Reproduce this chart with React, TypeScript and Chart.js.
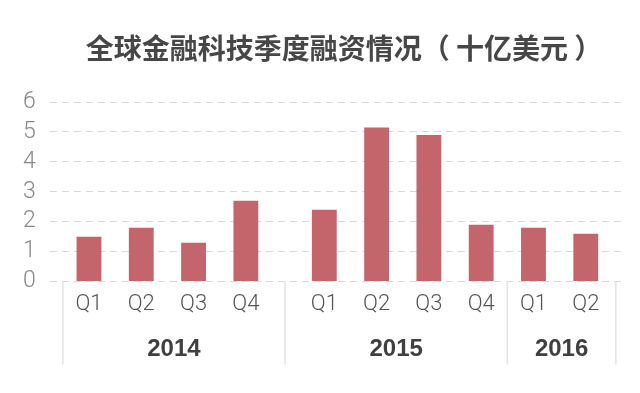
import React, { useEffect, useRef } from "react";
import { Chart, registerables } from "chart.js";

Chart.register(...registerables);

// ---- data ----
const TITLE = "全球金融科技季度融资情况（ 十亿美元 ）";
const YEARS = ["2014", "2015", "2016"];
const QUARTERS_2014 = ["Q1", "Q2", "Q3", "Q4"];
const QUARTERS_2015 = ["Q1", "Q2", "Q3", "Q4"];
const QUARTERS_2016 = ["Q1", "Q2"];
const VALUES_2014 = [1.5, 1.8, 1.3, 2.7];
const VALUES_2015 = [2.4, 5.15, 4.9, 1.9];
const VALUES_2016 = [1.8, 1.6];
const Y_TICKS = [0, 1, 2, 3, 4, 5, 6];

// ---- layout of the category axis (empty spacer categories) ----
const LEAD_SPACERS = 1;
const SPACERS_BETWEEN_BARS = 1;
const SPACERS_BETWEEN_GROUPS = [2, 1];
const TRAIL_SPACERS = 1;

const BAR_COLOR = "#c4656b";

function buildAxis() {
  const groups = [
    { year: YEARS[0], q: QUARTERS_2014, v: VALUES_2014 },
    { year: YEARS[1], q: QUARTERS_2015, v: VALUES_2015 },
    { year: YEARS[2], q: QUARTERS_2016, v: VALUES_2016 },
  ];
  const labels: string[] = [];
  const data: (number | null)[] = [];
  const groupRanges: { year: string; first: number; last: number }[] = [];
  const pushSpacer = (n: number) => {
    for (let i = 0; i < n; i++) {
      labels.push("");
      data.push(null);
    }
  };
  pushSpacer(LEAD_SPACERS);
  groups.forEach((g, gi) => {
    if (gi > 0) pushSpacer(SPACERS_BETWEEN_GROUPS[gi - 1]);
    const first = labels.length;
    g.q.forEach((q, qi) => {
      if (qi > 0) pushSpacer(SPACERS_BETWEEN_BARS);
      labels.push(q);
      data.push(g.v[qi]);
    });
    groupRanges.push({ year: g.year, first, last: labels.length - 1 });
  });
  pushSpacer(TRAIL_SPACERS);
  return { labels, data, groupRanges };
}

export default function App() {
  const ref = useRef<HTMLCanvasElement | null>(null);

  useEffect(() => {
    const { labels, data, groupRanges } = buildAxis();

    const titlePlugin = {
      id: "titleText",
      afterDraw(chart: any) {
        const ctx = chart.ctx;
        ctx.save();
        ctx.fillStyle = "#474747";
        ctx.font = "bold 28px 'Noto Sans CJK SC', sans-serif";
        ctx.textAlign = "center";
        ctx.textBaseline = "middle";
        ctx.fillText(TITLE, 344, 48);
        ctx.restore();
      },
    };

    const yearPlugin = {
      id: "yearGroups",
      afterDraw(chart: any) {
        const ctx = chart.ctx;
        const xs = chart.scales.x;
        const area = chart.chartArea;
        const step = xs.getPixelForValue(1) - xs.getPixelForValue(0);
        const bounds: number[] = [];
        groupRanges.forEach((g, i) => {
          if (i === 0) bounds.push(xs.getPixelForValue(g.first) - step * 1);
          if (i < groupRanges.length - 1) {
            const next = groupRanges[i + 1];
            bounds.push(
              (xs.getPixelForValue(g.last) + xs.getPixelForValue(next.first)) / 2
            );
          } else {
            bounds.push(xs.getPixelForValue(g.last) + step * 1.15);
          }
        });
        ctx.save();
        ctx.strokeStyle = "#e3e3e3";
        ctx.lineWidth = 1.5;
        bounds.forEach((bx) => {
          ctx.beginPath();
          ctx.moveTo(bx, area.bottom);
          ctx.lineTo(bx, area.bottom + 83);
          ctx.stroke();
        });
        ctx.fillStyle = "#404040";
        ctx.font = "bold 24px 'Liberation Sans', Arial, sans-serif";
        ctx.textAlign = "center";
        ctx.textBaseline = "middle";
        groupRanges.forEach((g, i) => {
          const cx = (bounds[i] + bounds[i + 1]) / 2;
          ctx.fillText(g.year, cx, area.bottom + 68);
        });
        ctx.restore();
      },
    };

    const chart = new Chart(ref.current as HTMLCanvasElement, {
      type: "bar",
      data: {
        labels,
        datasets: [
          {
            data,
            backgroundColor: BAR_COLOR,
            borderWidth: 0,
            barPercentage: 0.95,
            categoryPercentage: 1,
          },
        ],
      },
      options: {
        responsive: false,
        animation: false,
        layout: { padding: { left: 9, right: 15, top: 102, bottom: 65 } },
        plugins: {
          legend: { display: false },
          tooltip: { enabled: false },
          title: { display: false },
        },
        scales: {
          x: {
            type: "category",
            grid: { display: false, drawTicks: false },
            border: { display: false },
            ticks: {
              autoSkip: false,
              maxRotation: 0,
              minRotation: 0,
              padding: 10,
              color: "#555555",
              font: { family: "Roboto", size: 22, weight: "300" },
            },
          },
          y: {
            min: Y_TICKS[0],
            max: Y_TICKS[Y_TICKS.length - 1],
            afterBuildTicks: (axis: any) => {
              axis.ticks = Y_TICKS.map((v) => ({ value: v }));
            },
            grid: { color: "#d9d9d9", lineWidth: 1, drawTicks: false },
            border: { display: false, dash: [7, 5] },
            ticks: {
              autoSkip: false,
              padding: 14,
              color: "#888888",
              font: { family: "Roboto", size: 23, weight: "300" },
            },
          },
        },
      },
      plugins: [yearPlugin, titlePlugin],
    });
    return () => chart.destroy();
  }, []);

  return (
    <div style={{ position: "fixed", left: 0, top: 0, width: 640, height: 393, background: "#ffffff" }}>
      <canvas ref={ref} width={640} height={393} />
    </div>
  );
}
